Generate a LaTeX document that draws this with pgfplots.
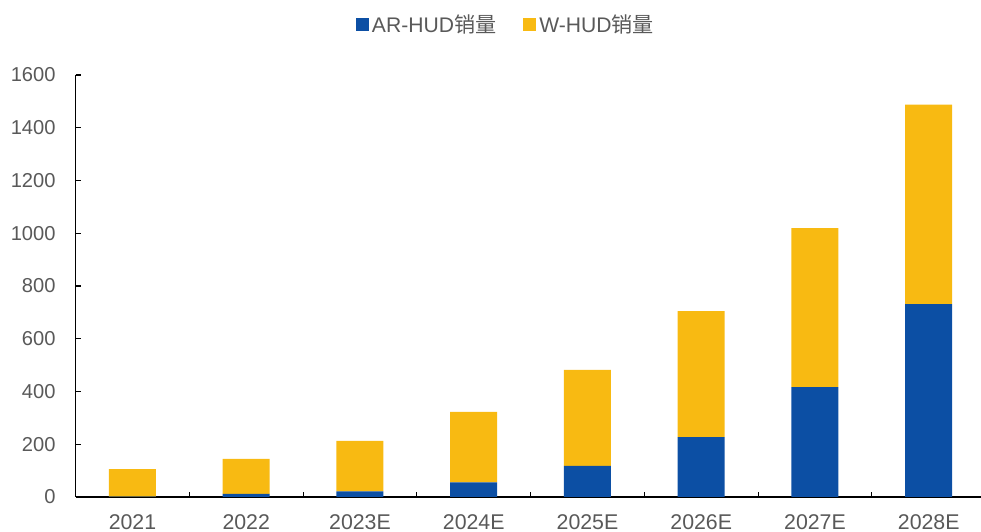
\documentclass[border=0pt]{standalone}
\usepackage{pgfplots}
\pgfplotsset{compat=1.18}
\usepackage{fontspec}
\setmainfont{Liberation Sans}
\newfontfamily\cjk{Noto Sans CJK SC}
\definecolor{arblue}{HTML}{0C4FA4}
\definecolor{wyellow}{HTML}{F8BA12}
\definecolor{txtgray}{HTML}{595959}
\begin{document}
\begin{tikzpicture}
\useasboundingbox (-37.8bp,-17.5bp) rectangle (452.7bp,248.5bp);
\begin{axis}[
  at={(0,0)}, anchor=south west,
  scale only axis,
  width=455bp, height=211bp,
  xmin=-0.5, xmax=7.5, ymin=0, ymax=1600,
  ybar stacked, bar width=23.5bp,
  axis x line=bottom, axis y line=left,
  axis line style={black, line width=0.6pt, -},
  xtick={0,...,7},
  xticklabels={2021,2022,2023E,2024E,2025E,2026E,2027E,2028E},
  minor xtick={0.5,1.5,...,6.5},
  major x tick style={draw=none},
  minor tick length=2.5bp,
  ytick={0,200,...,1600},
  major tick length=2.5bp,
  tick align=inside,
  tick style={black, line width=0.6pt},
  /pgf/number format/assume math mode=true,
  /pgf/number format/set thousands separator={},
  ticklabel style={text=txtgray},
  xticklabel style={font=\fontsize{10.7}{13}\selectfont, yshift=-5.5bp},
  yticklabel style={font=\fontsize{10.1}{12}\selectfont, xshift=-6.5bp},
  legend style={at={(0.4735,1.1185)}, anchor=center, draw=none, fill=none,
    legend columns=2, font=\fontsize{10.6}{13}\selectfont, text=txtgray,
    nodes={inner xsep=1.5bp},
    /tikz/every even column/.append style={column sep=12bp}},
  legend image code/.code={\fill[#1] (0bp,-3.25bp) rectangle (6.5bp,3.25bp);},
]
\addplot[fill=arblue, draw=none] coordinates {(0,1) (1,12) (2,21) (3,55) (4,118) (5,227) (6,417) (7,731)};
\addplot[fill=wyellow, draw=none] coordinates {(0,105) (1,133) (2,192) (3,268) (4,364) (5,478) (6,602) (7,757)};
\legend{AR-HUD{\cjk 销量}, W-HUD{\cjk 销量}}
\end{axis}
\end{tikzpicture}
\end{document}
